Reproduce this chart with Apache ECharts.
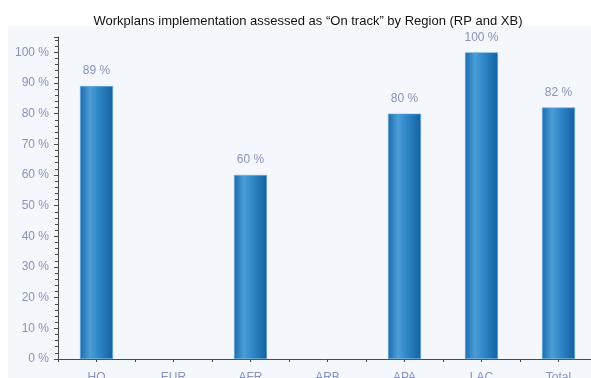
<!DOCTYPE html>
<html>
<head>
<meta charset="utf-8">
<script src="https://cdn.jsdelivr.net/npm/echarts@6/dist/echarts.min.js"></script>
<style>
  html, body { margin: 0; padding: 0; background: #ffffff; }
  #chart { width: 591px; height: 378px; }
</style>
</head>
<body>
<div id="chart"></div>
<script>
// Regions and share of workplans rated "On track" (%); blank regions have no value
const regions = ['HQ', 'EUR', 'AFR', 'ARB', 'APA', 'LAC', 'Total'];
const onTrack = [89, null, 60, null, 80, 100, 82];
const yTicks = [0, 10, 20, 30, 40, 50, 60, 70, 80, 90, 100];

const chart = echarts.init(document.getElementById('chart'), null, { renderer: 'canvas' });

const labelColor = '#8893bd';
const axisColor = '#4a4a4a';

const barFill = new echarts.graphic.LinearGradient(0, 0, 1, 0, [
  { offset: 0, color: '#1c6aab' },
  { offset: 0.3, color: '#4b9dd6' },
  { offset: 0.55, color: '#3088c8' },
  { offset: 1, color: '#14609f' }
]);

chart.setOption({
  animation: false,
  backgroundColor: '#ffffff',
  title: {
    text: 'Workplans implementation assessed as \u201cOn track\u201d by Region (RP and XB)',
    left: 303,
    textAlign: 'center',
    top: 10,
    textStyle: { fontFamily: 'Liberation Sans, Arial', fontSize: 13, fontWeight: 'normal', color: '#111111' }
  },
  graphic: [{
    type: 'rect',
    z: -10,
    silent: true,
    shape: { x: 8, y: 26, width: 600, height: 360 },
    style: { fill: '#f4f7fb' }
  }],
  // plot area runs slightly past the right and bottom edges of the canvas
  grid: { left: 58, width: 539, top: 37, bottom: 19, containLabel: false, outerBoundsMode: 'none' },
  xAxis: [{
    type: 'category',
    data: regions,
    axisLine: { lineStyle: { color: axisColor, width: 1 } },
    axisTick: { show: true, length: 3, lineStyle: { color: axisColor } },
    axisLabel: { color: labelColor, fontFamily: 'Liberation Sans, Arial', fontSize: 12, margin: 13 },
    splitLine: { show: false }
  }, {
    type: 'category',
    data: regions,
    position: 'bottom',
    axisLine: { show: false },
    axisTick: { show: true, alignWithLabel: true, length: 3, lineStyle: { color: axisColor } },
    axisLabel: { show: false },
    splitLine: { show: false }
  }],
  yAxis: {
    type: 'value',
    min: 0,
    max: 105,
    interval: 10,
    axisLine: { show: true, lineStyle: { color: axisColor, width: 1 } },
    axisTick: { show: true, length: 4, lineStyle: { color: axisColor } },
    minorTick: { show: true, splitNumber: 5, length: 3, lineStyle: { color: axisColor } },
    splitLine: { show: false },
    axisLabel: {
      color: labelColor,
      fontFamily: 'Liberation Sans, Arial',
      fontSize: 12,
      margin: 9,
      showMaxLabel: false,
      formatter: v => (yTicks.indexOf(v) >= 0 ? v + ' %' : '')
    }
  },
  series: [{
    type: 'bar',
    data: onTrack,
    barWidth: 33,
    itemStyle: { color: barFill, borderColor: '#6aaee0', borderWidth: 0.6 },
    label: {
      show: true,
      position: 'top',
      distance: 9,
      color: labelColor,
      fontFamily: 'Liberation Sans, Arial',
      fontSize: 12,
      formatter: p => (p.value == null ? '' : p.value + ' %')
    }
  }]
});
</script>
</body>
</html>
